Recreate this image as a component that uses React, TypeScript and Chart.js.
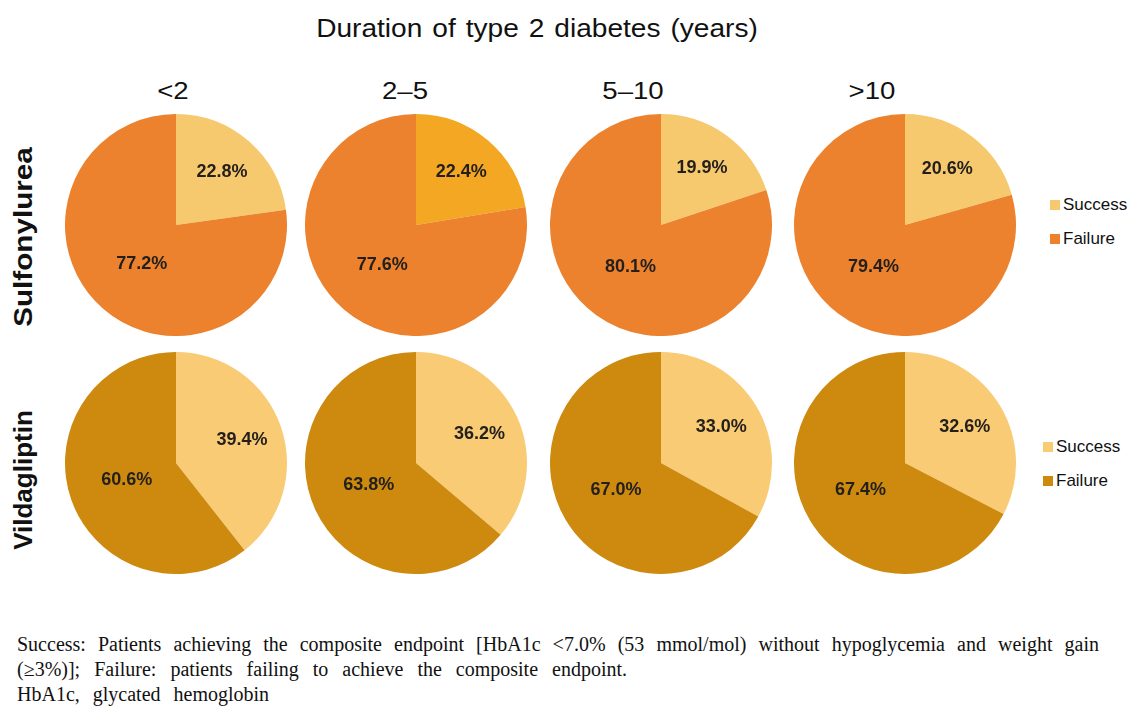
import React, { useEffect, useRef } from "react";
import { Chart, registerables } from "chart.js";

Chart.register(...registerables);

// ---- data ----
const durations = ["<2", "2–5", "5–10", ">10"];
const treatments = ["Sulfonylurea", "Vildagliptin"];
const outcomeLabels = ["Success", "Failure"];
const sulfonylureaSuccess = [22.8, 22.4, 19.9, 20.6];
const sulfonylureaFailure = [77.2, 77.6, 80.1, 79.4];
const vildagliptinSuccess = [39.4, 36.2, 33.0, 32.6];
const vildagliptinFailure = [60.6, 63.8, 67.0, 67.4];

// ---- styling / layout ----
const SU_SUCCESS = "#F7C96E";
const SU_SUCCESS_ALT = "#F4A722";
const SU_FAILURE = "#EC822D";
const VI_SUCCESS = "#F9CB74";
const VI_FAILURE = "#CD8A0F";

const pieX = [176, 416, 661, 905];
const pieY = [225, 463];
const headerX = [173, 405, 633, 872];
const rowLabelY = [237, 480];
const rowLabelScale = [1.14, 1.0];
const R = 111;

const labelPlugin = {
  id: "sliceLabels",
  afterDatasetsDraw(chart: any) {
    const ctx = chart.ctx;
    const meta = chart.getDatasetMeta(0);
    const data = chart.data.datasets[0].data as number[];
    ctx.save();
    ctx.font = "bold 18px Arial, 'Liberation Sans', sans-serif";
    ctx.fillStyle = "#231f1c";
    ctx.textAlign = "center";
    ctx.textBaseline = "middle";
    meta.data.forEach((arc: any, i: number) => {
      const p = arc.getProps(["x", "y", "startAngle", "endAngle", "outerRadius"], true);
      const mid = (p.startAngle + p.endAngle) / 2;
      const f = i === 0 ? 0.63 : 0.47;
      const x = p.x + Math.cos(mid) * p.outerRadius * f;
      const y = p.y + Math.sin(mid) * p.outerRadius * f;
      ctx.fillText(data[i].toFixed(1) + "%", x, y);
    });
    ctx.restore();
  },
};

function Pie({ values, colors, cx, cy }: { values: number[]; colors: string[]; cx: number; cy: number }) {
  const ref = useRef<HTMLCanvasElement | null>(null);
  useEffect(() => {
    if (!ref.current) return;
    const chart = new Chart(ref.current, {
      type: "pie",
      data: {
        labels: outcomeLabels,
        datasets: [{ data: values, backgroundColor: colors, borderWidth: 0, hoverOffset: 0 }],
      },
      options: {
        responsive: false,
        animation: false,
        layout: { padding: 0 },
        plugins: { legend: { display: false }, tooltip: { enabled: false } },
      },
      plugins: [labelPlugin],
    });
    return () => chart.destroy();
  }, []);
  return (
    <canvas
      ref={ref}
      width={R * 2}
      height={R * 2}
      style={{ position: "absolute", left: cx - R, top: cy - R, width: R * 2, height: R * 2 }}
    />
  );
}

const sans = "Arial, 'Liberation Sans', sans-serif";

function Legend({ x, y, colors }: { x: number; y: number; colors: string[] }) {
  return (
    <>
      {outcomeLabels.map((l, i) => (
        <div
          key={l}
          style={{
            position: "absolute",
            left: x,
            top: y + i * 34 - 11,
            height: 22,
            display: "flex",
            alignItems: "center",
            fontFamily: sans,
            fontSize: 17,
            color: "#111",
            whiteSpace: "nowrap",
          }}
        >
          <span style={{ display: "inline-block", width: 10, height: 10, background: colors[i], marginRight: 3 }} />
          {l}
        </div>
      ))}
    </>
  );
}

export default function App() {
  const rows = [
    { s: sulfonylureaSuccess, f: sulfonylureaFailure },
    { s: vildagliptinSuccess, f: vildagliptinFailure },
  ];
  return (
    <div style={{ position: "fixed", left: 0, top: 0, width: 1137, height: 710, background: "#fff", overflow: "hidden" }}>
      <div
        style={{
          position: "absolute",
          left: 0,
          width: 1074,
          top: 13,
          textAlign: "center",
          fontFamily: sans,
          fontSize: 26,
          lineHeight: "30px",
          wordSpacing: 2,
          color: "#111",
          transform: "scaleX(1.08)",
          transformOrigin: "537px 50%",
        }}
      >
        Duration of type 2 diabetes (years)
      </div>
      {durations.map((d, i) => (
        <div
          key={d}
          style={{
            position: "absolute",
            left: headerX[i] - 60,
            width: 120,
            top: 78,
            textAlign: "center",
            fontFamily: sans,
            fontSize: 23,
            lineHeight: "26px",
            color: "#111",
            transform: "scaleX(1.2)",
          }}
        >
          {d}
        </div>
      ))}
      {treatments.map((t, r) => (
        <div
          key={t}
          style={{
            position: "absolute",
            left: 23 - 100,
            top: rowLabelY[r] - 15,
            width: 200,
            height: 30,
            lineHeight: "30px",
            textAlign: "center",
            transform: `rotate(-90deg) scaleX(${rowLabelScale[r]})`,
            fontFamily: sans,
            fontWeight: "bold",
            fontSize: 26,
            color: "#111",
          }}
        >
          {t}
        </div>
      ))}
      {rows.map((row, r) =>
        durations.map((d, c) => (
          <Pie
            key={r + "-" + c}
            values={[row.s[c], row.f[c]]}
            colors={
              r === 0
                ? [c === 1 ? SU_SUCCESS_ALT : SU_SUCCESS, SU_FAILURE]
                : [VI_SUCCESS, VI_FAILURE]
            }
            cx={pieX[c]}
            cy={pieY[r]}
          />
        ))
      )}
      <Legend x={1050} y={205} colors={[SU_SUCCESS, SU_FAILURE]} />
      <Legend x={1043} y={447} colors={[VI_SUCCESS, VI_FAILURE]} />
      <div
        style={{
          position: "absolute",
          left: 17,
          top: 632,
          width: 1082,
          fontFamily: "'Times New Roman', 'Liberation Serif', serif",
          fontSize: 20,
          lineHeight: "25px",
          color: "#111",
        }}
      >
        <div style={{ textAlign: "justify", textAlignLast: "justify" as any, wordSpacing: 2 }}>
          Success: Patients achieving the composite endpoint [HbA1c &lt;7.0% (53 mmol/mol) without hypoglycemia and weight gain
        </div>
        <div style={{ wordSpacing: 9 }}>
          (≥3%)]; Failure: patients failing to achieve the composite endpoint.
        </div>
        <div style={{ wordSpacing: 8 }}>HbA1c, glycated hemoglobin</div>
      </div>
    </div>
  );
}
